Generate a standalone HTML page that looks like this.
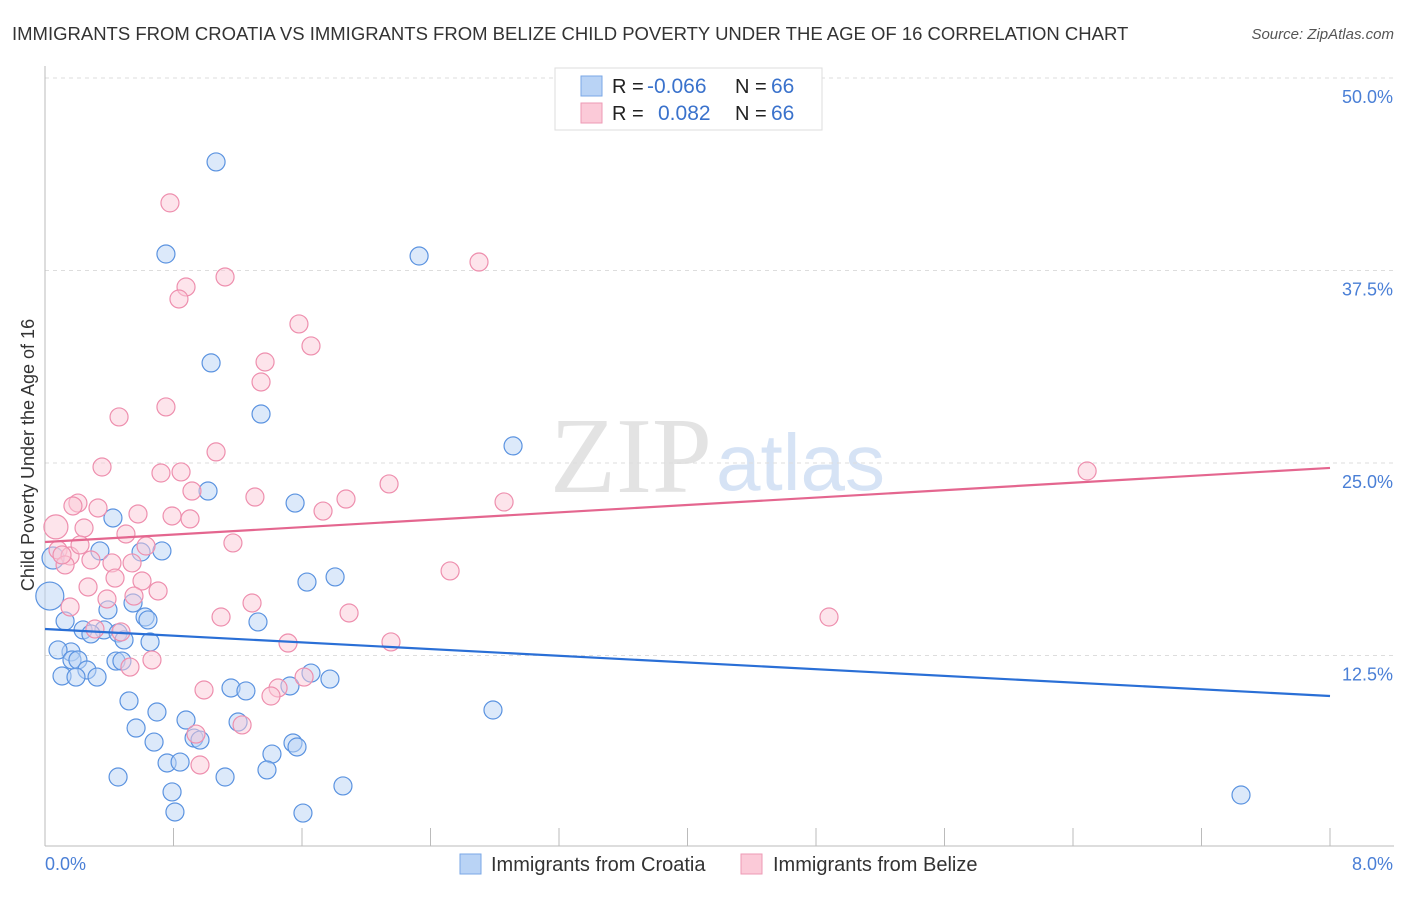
<!DOCTYPE html>
<html><head><meta charset="utf-8"><style>
body{margin:0;background:#fff;font-family:"Liberation Sans",sans-serif;}
svg text{font-family:"Liberation Sans",sans-serif;}
</style></head><body>
<svg id="chart" width="1406" height="892" xmlns="http://www.w3.org/2000/svg">
<text x="12" y="40" font-size="18.5" fill="#333">IMMIGRANTS FROM CROATIA VS IMMIGRANTS FROM BELIZE CHILD POVERTY UNDER THE AGE OF 16 CORRELATION CHART</text>
<text x="1394" y="39" font-size="15" fill="#555" font-style="italic" text-anchor="end">Source: ZipAtlas.com</text>
<text x="712" y="492" font-size="108" fill="#e3e3e3" text-anchor="end" style="font-family:'Liberation Serif',serif">ZIP</text>
<text x="716" y="490" font-size="80" fill="#d6e3f5">atlas</text>
<g id="grid"></g>
<g id="axes"></g>
<g id="marks"></g>
<text transform="translate(34,455) rotate(-90)" font-size="18" fill="#333" text-anchor="middle">Child Poverty Under the Age of 16</text>
<g>
<rect x="555" y="68" width="267" height="62" fill="#fff" stroke="#ddd"/>
<rect x="581" y="76" width="21" height="20" fill="#b9d3f5" stroke="#7aa7e6"/>
<rect x="581" y="103" width="21" height="20" fill="#fbcad8" stroke="#ee9ab5"/>
<text x="612" y="93" font-size="20" fill="#222">R = </text><text x="647" y="93" font-size="21" fill="#3a72cc">-0.066</text>
<text x="735" y="93" font-size="20" fill="#222">N = </text><text x="771" y="93" font-size="21" fill="#3a72cc">66</text>
<text x="612" y="120" font-size="20" fill="#222">R = </text><text x="658" y="120" font-size="21" fill="#3a72cc">0.082</text>
<text x="735" y="120" font-size="20" fill="#222">N = </text><text x="771" y="120" font-size="21" fill="#3a72cc">66</text>
</g>
<g>
<rect x="460" y="854" width="21" height="20" fill="#b9d3f5" stroke="#7aa7e6"/>
<text x="491" y="871" font-size="20" fill="#333">Immigrants from Croatia</text>
<rect x="741" y="854" width="21" height="20" fill="#fbcad8" stroke="#ee9ab5"/>
<text x="773" y="871" font-size="20" fill="#333">Immigrants from Belize</text>
</g>
</svg>
<script>
const yTicks=[12.5,25,37.5,50];
const yTickLabels=["12.5%","25.0%","37.5%","50.0%"];
const xTicks=[0,0.8,1.6,2.4,3.2,4.0,4.8,5.6,6.4,7.2,8.0];
const croatiaX=[1.065,0.753,2.329,1.034,1.345,2.914,1.015,1.557,0.423,0.342,0.598,0.728,0.05,1.631,1.806,0.03,0.392,0.548,0.623,0.641,0.125,0.237,0.367,0.455,0.286,0.492,0.654,1.326,0.162,0.081,0.168,0.205,0.261,0.442,0.479,0.324,0.106,0.193,1.656,1.525,1.774,1.158,1.251,2.789,0.523,0.697,0.567,0.878,0.679,1.202,0.928,0.965,1.413,1.544,1.569,0.760,0.841,0.455,1.121,1.382,1.855,0.791,0.809,1.606,7.446];
const croatiaY=[44.55,38.57,38.44,31.50,28.18,26.11,23.18,22.40,21.43,19.29,19.22,19.29,18.83,17.27,17.60,16.36,15.46,15.91,15.00,14.81,14.74,14.16,14.16,13.96,13.90,13.51,13.38,14.68,12.73,12.86,12.21,12.21,11.56,12.14,12.14,11.10,11.17,11.10,11.36,10.52,10.97,10.39,10.20,8.96,9.55,8.83,7.79,8.31,6.88,8.18,7.14,7.01,6.10,6.82,6.56,5.52,5.58,4.61,4.61,5.07,4.03,3.64,2.34,2.27,3.44];
const croatiaSize={12:11,15:14};
const belizeX=[0.778,1.121,0.878,0.834,2.702,1.581,1.656,1.370,1.345,0.753,0.461,1.065,0.355,0.722,0.847,6.488,2.142,0.915,1.307,1.874,0.205,0.174,2.858,1.731,0.579,0.791,0.903,0.068,0.243,0.330,0.504,1.170,0.629,0.081,0.156,0.125,0.417,0.286,0.542,0.436,0.268,0.604,0.704,0.554,0.386,0.156,1.289,2.522,1.893,1.096,4.881,0.311,0.473,1.513,2.154,0.666,0.529,0.990,1.451,1.407,1.613,1.227,0.940,0.965,0.106,0.218];
const belizeY=[41.89,37.08,36.43,35.65,38.05,34.03,32.60,31.56,30.26,28.64,27.99,25.72,24.74,24.35,24.42,24.48,23.64,23.18,22.79,22.66,22.40,22.21,22.47,21.88,21.69,21.56,21.37,20.85,20.78,22.08,20.39,19.81,19.61,19.35,18.96,18.38,18.51,18.70,18.51,17.53,16.95,17.34,16.69,16.36,16.17,15.65,15.91,17.99,15.26,15.00,15.00,14.22,14.03,13.31,13.38,12.21,11.75,10.26,10.39,9.87,11.10,7.99,7.40,5.39,19.03,19.68];
const belizeSize={27:12};
const croatiaTrend=[14.22,9.87];
const belizeTrend=[19.87,24.68];
const trendX=[0,8];

const NS="http://www.w3.org/2000/svg";
const X=v=>45+v/8*1285;
const Y=v=>848-v/50*770;
function mk(t,a,p){const e=document.createElementNS(NS,t);for(const k in a)e.setAttribute(k,a[k]);p.appendChild(e);return e;}
const grid=document.getElementById('grid'),axes=document.getElementById('axes'),marks=document.getElementById('marks');
yTicks.forEach((t,i)=>{
  const l=mk('line',{x1:45,x2:1394,y1:Y(t),y2:Y(t),stroke:'#ddd','stroke-dasharray':'4,4'},grid);
  
  
  const tx=mk('text',{x:1393,y:Y(t)+25,'font-size':18,fill:'#4a7fd6','text-anchor':'end'},axes);
  tx.textContent=yTickLabels[i];
  
  
});
const ya=mk('line',{x1:45,x2:45,y1:66,y2:846,stroke:'#bbb'},axes);


const xa=mk('line',{x1:45,x2:1394,y1:846,y2:846,stroke:'#bbb'},axes);


xTicks.forEach(t=>{
  const l=mk('line',{x1:X(t),x2:X(t),y1:828,y2:846,stroke:'#bbb'},axes);
  
  
});
const xl0=mk('text',{x:45,y:870,'font-size':18,fill:'#4a7fd6'},axes);xl0.textContent='0.0%';


const xl1=mk('text',{x:1393,y:870,'font-size':18,fill:'#4a7fd6','text-anchor':'end'},axes);xl1.textContent='8.0%';


function pts(xs,ys,sz,fill,stroke,name){
  xs.forEach((x,i)=>{
    const c=mk('circle',{cx:X(x),cy:Y(ys[i]),r:sz[i]||9,fill:fill,'fill-opacity':0.5,stroke:stroke,'stroke-width':1.2},marks);
    
    
  });
}
pts(croatiaX,croatiaY,croatiaSize,'#b9d3f5','#5b93e0','point-croatia');
pts(belizeX,belizeY,belizeSize,'#fbcad8','#ee8fae','point-belize');
const t1=mk('line',{x1:X(trendX[0]),x2:X(trendX[1]),y1:Y(croatiaTrend[0]),y2:Y(croatiaTrend[1]),stroke:'#2a6fd6','stroke-width':2.2},marks);


const t2=mk('line',{x1:X(trendX[0]),x2:X(trendX[1]),y1:Y(belizeTrend[0]),y2:Y(belizeTrend[1]),stroke:'#e4668f','stroke-width':2.2},marks);


</script>
</body></html>
